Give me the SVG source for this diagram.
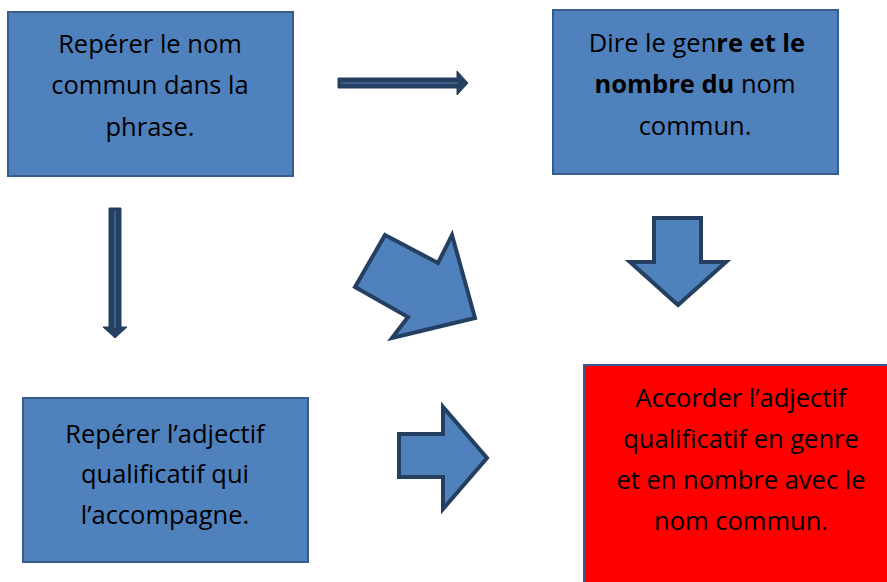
<svg xmlns="http://www.w3.org/2000/svg" width="887" height="582" viewBox="0 0 887 582">
<style>
.box{fill:#4F81BD;stroke:#385D8A;stroke-width:2}
.red{fill:#FF0000;stroke:#385D8A;stroke-width:2}
.t{font-family:"Open Sans","Noto Sans",sans-serif;font-size:25.5px;fill:#000;text-anchor:middle}
.b{font-weight:bold}
.blk{fill:#4F81BD;stroke:#243F60;stroke-width:4;stroke-linejoin:miter}
.thin{fill:#243F60;stroke:#243F60;stroke-width:1}
.stripe{stroke:#3A5F8F;stroke-width:2;fill:none}
</style>
<rect width="887" height="582" fill="#fff"/>
<g id="node1">
<rect class="box" x="8" y="12" width="285" height="164"/>
<text class="t" x="150" y="53">Repérer le nom</text>
<text class="t" x="150" y="94">commun dans la</text>
<text class="t" x="150" y="136">phrase.</text>
</g>
<g id="node2">
<rect class="box" x="553" y="10" width="285" height="164"/>
<text class="t" x="697" y="52">Dire le gen<tspan class="b">re et le</tspan></text>
<text class="t" x="695" y="93"><tspan class="b">nombre du</tspan> nom</text>
<text class="t" x="695" y="135">commun.</text>
</g>
<g id="node3">
<rect class="box" x="23" y="398" width="285" height="164"/>
<text class="t" x="165" y="443">Repérer l’adjectif</text>
<text class="t" x="165" y="483">qualificatif qui</text>
<text class="t" x="165" y="524">l’accompagne.</text>
</g>
<g id="node4">
<rect class="red" x="584" y="365" width="320" height="230"/>
<text class="t" x="741" y="407">Accorder l’adjectif</text>
<text class="t" x="741" y="448">qualificatif en genre</text>
<text class="t" x="741" y="489">et en nombre avec le</text>
<text class="t" x="741" y="530">nom commun.</text>
</g>
<g id="connectors">
<polygon class="thin" points="338,78 457,78 457,71 468,83 457,95 457,88 338,88"/>
<line class="stripe" x1="341" y1="83" x2="458" y2="83"/>
<polygon class="thin" points="109,208 121,208 121,327 127,327 115,338 103,327 109,327"/>
<line class="stripe" x1="115" y1="211" x2="115" y2="328"/>
<polygon class="blk" points="385,235 438,263 452,235 475,318 392,338 408,317 355,287"/>
<polygon class="blk" points="399,434 443,434 443,407 487,458 443,509 443,477 399,477"/>
<polygon class="blk" points="654,218 701,218 701,262 726,262 678,305 630,262 654,262"/>
</g>
</svg>
